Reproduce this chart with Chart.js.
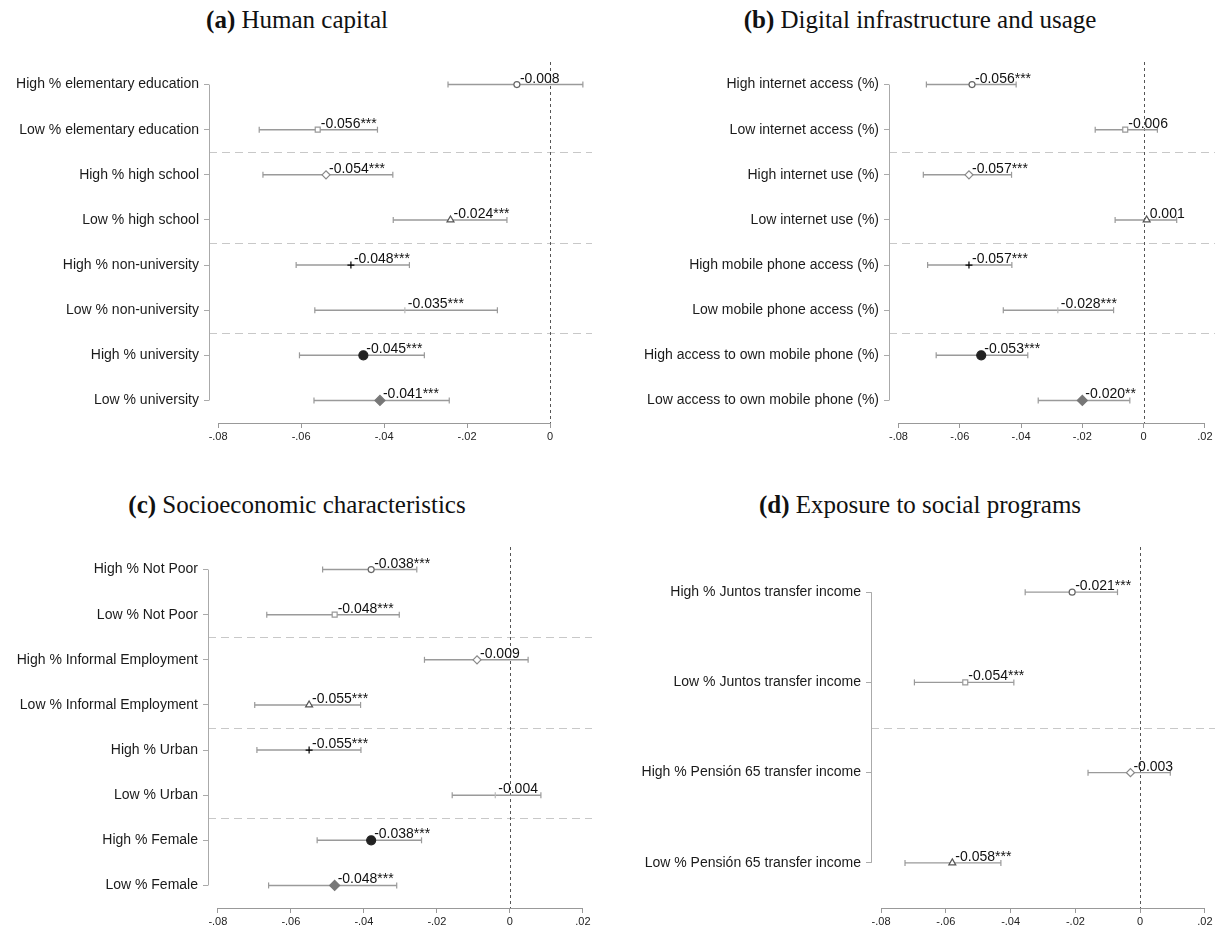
<!DOCTYPE html>
<html lang="en">
<head>
<meta charset="UTF-8">
<title>Heterogeneous effects</title>
<style>
    body { margin: 0; background: #fff; }
    #page { position: relative; width: 1225px; height: 931px; overflow: hidden; }
    .ttl {
        position: absolute;
        transform: translateX(-50%);
        white-space: nowrap;
        font-family: 'Liberation Serif', 'Times New Roman', serif;
        font-size: 25px;
        line-height: 30px;
        color: #111;
    }
    .box { position: absolute; }
</style>
</head>
<body>
<div id="page">
    <div class="ttl" style="left:297px; top:5px;"><b>(a)</b> Human capital</div>
    <div class="ttl" style="left:920px; top:5px;"><b>(b)</b> Digital infrastructure and usage</div>
    <div class="ttl" style="left:297px; top:490px;"><b>(c)</b> Socioeconomic characteristics</div>
    <div class="ttl" style="left:920px; top:490px;"><b>(d)</b> Exposure to social programs</div>

    <div class="box" style="left:0; top:45px;"><canvas id="chartA" width="612" height="405"></canvas></div>
    <div class="box" style="left:612px; top:45px;"><canvas id="chartB" width="613" height="405"></canvas></div>
    <div class="box" style="left:0; top:530px;"><canvas id="chartC" width="612" height="401"></canvas></div>
    <div class="box" style="left:612px; top:530px;"><canvas id="chartD" width="613" height="401"></canvas></div>
</div>

<script src="https://cdn.jsdelivr.net/npm/chart.js"></script>
<script>
// ---- data ----
const labelsA = ['High % elementary education', 'Low % elementary education', 'High % high school', 'Low % high school',
    'High % non-university', 'Low % non-university', 'High % university', 'Low % university'];
const coefA = [-0.008, -0.056, -0.054, -0.024, -0.048, -0.035, -0.045, -0.041];
const loA = [-0.0246, -0.0701, -0.0692, -0.0378, -0.0612, -0.0567, -0.0604, -0.0569];
const hiA = [0.0079, -0.0416, -0.0379, -0.0104, -0.0339, -0.0127, -0.0303, -0.0243];
const starsA = ['', '***', '***', '***', '***', '***', '***', '***'];

const labelsB = ['High internet access (%)', 'Low internet access (%)', 'High internet use (%)', 'Low internet use (%)',
    'High mobile phone access (%)', 'Low mobile phone access (%)', 'High access to own mobile phone (%)', 'Low access to own mobile phone (%)'];
const coefB = [-0.056, -0.006, -0.057, 0.001, -0.057, -0.028, -0.053, -0.020];
const loB = [-0.0709, -0.0158, -0.0719, -0.0093, -0.0705, -0.0458, -0.0677, -0.0344];
const hiB = [-0.0416, 0.0045, -0.0431, 0.0108, -0.0430, -0.0098, -0.0378, -0.0045];
const starsB = ['***', '', '***', '', '***', '***', '***', '**'];

const labelsC = ['High % Not Poor', 'Low % Not Poor', 'High % Informal Employment', 'Low % Informal Employment',
    'High % Urban', 'Low % Urban', 'High % Female', 'Low % Female'];
const coefC = [-0.038, -0.048, -0.009, -0.055, -0.055, -0.004, -0.038, -0.048];
const loC = [-0.0513, -0.0666, -0.0234, -0.0699, -0.0693, -0.0158, -0.0528, -0.0661];
const hiC = [-0.0255, -0.0303, 0.0050, -0.0409, -0.0408, 0.0085, -0.0242, -0.0310];
const starsC = ['***', '***', '', '***', '***', '', '***', '***'];

const labelsD = ['High % Juntos transfer income', 'Low % Juntos transfer income',
    'High % Pensión 65 transfer income', 'Low % Pensión 65 transfer income'];
const coefD = [-0.021, -0.054, -0.003, -0.058];
const loD = [-0.0355, -0.0697, -0.0161, -0.0726];
const hiD = [-0.0070, -0.0390, 0.0093, -0.0430];
const starsD = ['***', '***', '', '***'];

const ticksShort = [-0.08, -0.06, -0.04, -0.02, 0];
const tickLabelsShort = ['-.08', '-.06', '-.04', '-.02', '0'];
const ticksLong = [-0.08, -0.06, -0.04, -0.02, 0, 0.02];
const tickLabelsLong = ['-.08', '-.06', '-.04', '-.02', '0', '.02'];

const groupSize = 2;   // high / low pairs

// ---- styles ----
const FONT = "'Liberation Sans', Arial, sans-serif";
const ciColor = '#9a9a9a';
const markerStyles = [
    { style: 'circle',   r: 3,   fill: '#fff', stroke: '#666' },
    { style: 'rect',     r: 3.5, fill: '#fff', stroke: '#999' },
    { style: 'rectRot',  r: 4,   fill: '#fff', stroke: '#888' },
    { style: 'triangle', r: 4,   fill: '#fff', stroke: '#555' },
    { style: 'cross',    r: 3.5, fill: '#000', stroke: '#000' },
    { style: 'line',     r: 3,   fill: '#bbb', stroke: '#bbb', rot: 90 },
    { style: 'circle',   r: 4.5, fill: '#222', stroke: '#222' },
    { style: 'rectRot',  r: 5,   fill: '#777', stroke: '#777' }
];

const coefPlot = {
    id: 'coefPlot',
    beforeDatasetsDraw(chart, args, opts) {
        const { ctx, chartArea: a, scales: { x, y } } = chart;
        const n = opts.labels.length;
        ctx.save();
        ctx.lineWidth = 1;
        // group separators
        ctx.strokeStyle = '#c8c8c8';
        ctx.setLineDash([8, 5]);
        for (let g = groupSize; g < n; g += groupSize) {
            const py = Math.round(y.getPixelForValue(g + 0.5)) + 0.5;
            ctx.beginPath(); ctx.moveTo(a.left, py); ctx.lineTo(a.right, py); ctx.stroke();
        }
        // zero reference line
        ctx.strokeStyle = '#555';
        ctx.setLineDash([3, 3]);
        const zx = Math.round(x.getPixelForValue(0)) + 0.5;
        ctx.beginPath(); ctx.moveTo(zx, a.top); ctx.lineTo(zx, a.bottom); ctx.stroke();
        // axis lines, first tick to last tick
        ctx.setLineDash([]);
        ctx.strokeStyle = '#aaa';
        const lx = Math.round(a.left) + 0.5;
        ctx.beginPath(); ctx.moveTo(lx, y.getPixelForValue(1)); ctx.lineTo(lx, y.getPixelForValue(n)); ctx.stroke();
        ctx.strokeStyle = '#999';
        const by = Math.round(a.bottom) + 0.5;
        const t = opts.xTicks;
        ctx.beginPath(); ctx.moveTo(x.getPixelForValue(t[0]), by); ctx.lineTo(x.getPixelForValue(t[t.length - 1]), by); ctx.stroke();
        ctx.restore();
    },
    afterDatasetsDraw(chart, args, opts) {
        const { ctx, scales: { x, y } } = chart;
        ctx.save();
        ctx.font = '14px ' + FONT;
        ctx.fillStyle = '#111';
        ctx.textBaseline = 'alphabetic';
        opts.coef.forEach((c, i) => {
            const txt = (c < 0 ? '-' : '') + Math.abs(c).toFixed(3) + opts.stars[i];
            ctx.fillText(txt, x.getPixelForValue(c) + 3, y.getPixelForValue(i + 1) - 2);
        });
        ctx.restore();
    }
};

function makePanel(id, d, lay) {
    const datasets = [];
    // markers first so they draw on top
    d.coef.forEach((c, i) => {
        const m = markerStyles[i % markerStyles.length];
        datasets.push({
            data: [{ x: c, y: i + 1 }],
            pointStyle: m.style,
            pointRadius: m.r,
            pointRotation: m.rot || 0,
            pointBackgroundColor: m.fill,
            pointBorderColor: m.stroke,
            pointBorderWidth: 1.2
        });
    });
    d.coef.forEach((c, i) => {
        datasets.push({
            data: [{ x: d.lo[i], y: i + 1 }, { x: d.hi[i], y: i + 1 }],
            showLine: true,
            borderColor: ciColor,
            borderWidth: 1.4,
            pointStyle: 'line',
            pointRotation: 90,
            pointRadius: 3,
            pointBorderColor: ciColor,
            pointBorderWidth: 1.2
        });
    });

    new Chart(document.getElementById(id), {
        type: 'scatter',
        data: { datasets },
        options: {
            responsive: false,
            animation: false,
            devicePixelRatio: 1,
            layout: { padding: { top: lay.top, right: lay.right, left: 0, bottom: 0 } },
            plugins: {
                legend: { display: false },
                tooltip: { enabled: false },
                coefPlot: { labels: d.labels, coef: d.coef, stars: d.stars, xTicks: d.xTicks }
            },
            scales: {
                x: {
                    type: 'linear',
                    min: lay.xMin,
                    max: lay.xMax,
                    afterBuildTicks: s => { s.ticks = d.xTicks.map(v => ({ value: v })); },
                    afterFit: s => { s.height = lay.xH; },
                    ticks: {
                        autoSkip: false,
                        maxRotation: 0,
                        padding: 2,
                        color: '#222',
                        font: { family: FONT, size: 11 },
                        callback: (v, i) => d.xTickLabels[i]
                    },
                    grid: { drawOnChartArea: false, drawTicks: true, tickLength: 5, color: '#999' },
                    border: { display: false }
                },
                y: {
                    type: 'linear',
                    reverse: true,
                    min: 0.5,
                    max: d.labels.length + 0.5,
                    afterBuildTicks: s => { s.ticks = d.labels.map((_, i) => ({ value: i + 1 })); },
                    afterFit: s => { s.width = lay.yW; },
                    ticks: {
                        autoSkip: false,
                        padding: 5,
                        color: '#1a1a1a',
                        font: { family: FONT, size: 14 },
                        callback: (v, i) => d.labels[i]
                    },
                    grid: { drawOnChartArea: false, drawTicks: true, tickLength: 5, color: '#aaa' },
                    border: { display: false }
                }
            }
        },
        plugins: [coefPlot]
    });
}

makePanel('chartA',
    { labels: labelsA, coef: coefA, lo: loA, hi: hiA, stars: starsA, xTicks: ticksShort, xTickLabels: tickLabelsShort },
    { yW: 209, top: 17, right: 20, xH: 27, xMin: -0.0822, xMax: 0.0101 });
makePanel('chartB',
    { labels: labelsB, coef: coefB, lo: loB, hi: hiB, stars: starsB, xTicks: ticksLong, xTickLabels: tickLabelsLong },
    { yW: 277, top: 17, right: 10, xH: 27, xMin: -0.0831, xMax: 0.0233 });
makePanel('chartC',
    { labels: labelsC, coef: coefC, lo: loC, hi: hiC, stars: starsC, xTicks: ticksLong, xTickLabels: tickLabelsLong },
    { yW: 208, top: 17, right: 20, xH: 23, xMin: -0.0827, xMax: 0.0225 });
makePanel('chartD',
    { labels: labelsD, coef: coefD, lo: loD, hi: hiD, stars: starsD, xTicks: ticksLong, xTickLabels: tickLabelsLong },
    { yW: 259, top: 17, right: 10, xH: 23, xMin: -0.0831, xMax: 0.0231 });
</script>
</body>
</html>
